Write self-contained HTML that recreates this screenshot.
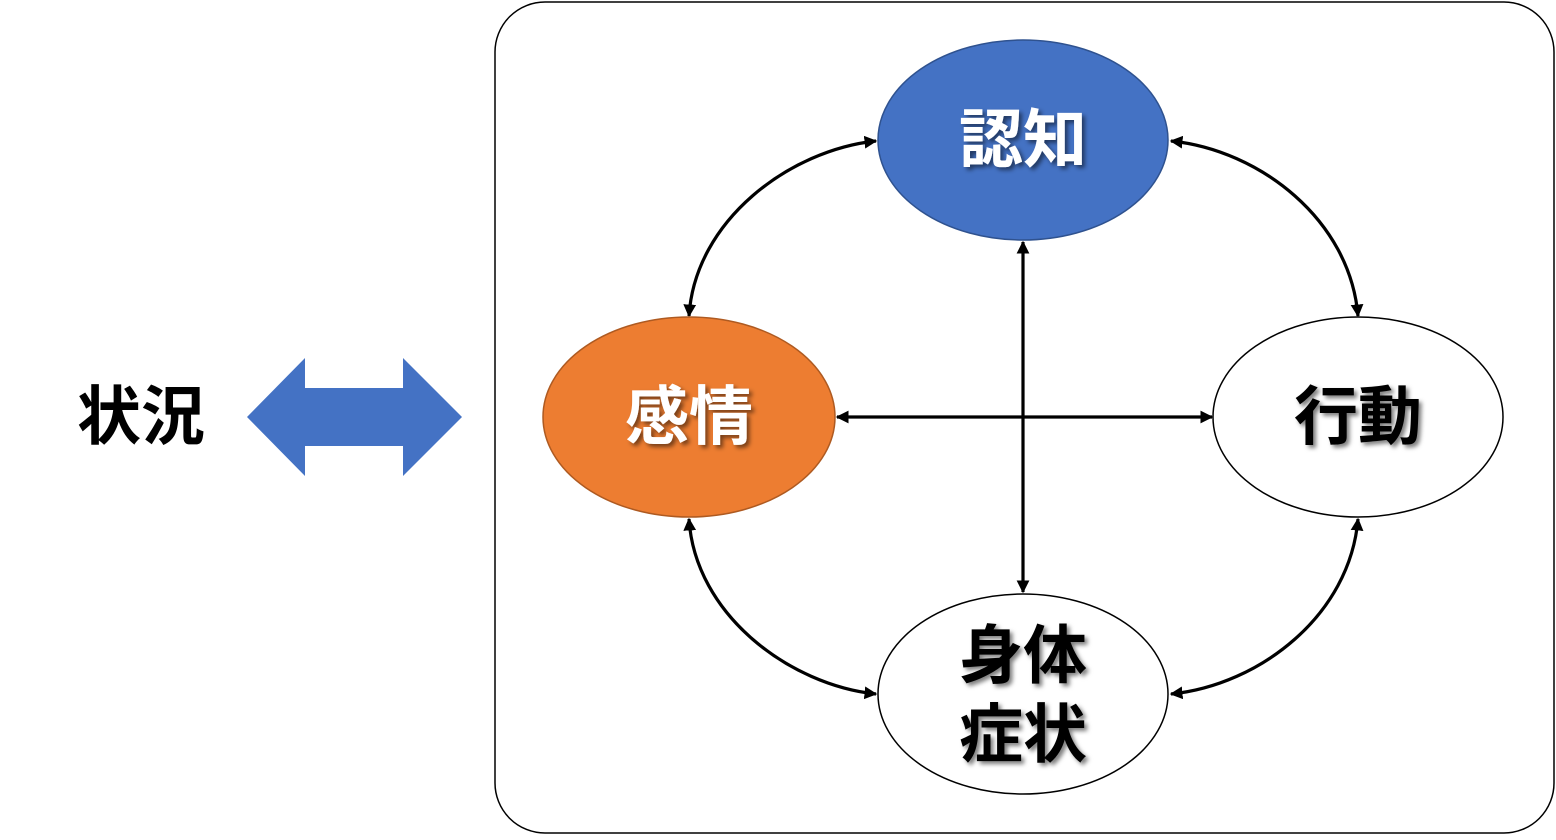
<!DOCTYPE html>
<html><head><meta charset="utf-8"><style>
html,body{margin:0;padding:0;background:#fff;}
svg text{font-family:"Liberation Sans","Noto Sans CJK JP",sans-serif;font-weight:bold;}
</style></head><body>
<svg width="1556" height="835" viewBox="0 0 1556 835" xmlns="http://www.w3.org/2000/svg">
<defs>
<marker id="a" viewBox="0 0 10 10" refX="9" refY="5" markerWidth="4" markerHeight="4" orient="auto-start-reverse">
<path d="M0,0 L10,5 L0,10 z" fill="#000"/></marker>
<filter id="s" x="-20%" y="-20%" width="140%" height="140%"><feDropShadow dx="3" dy="3" stdDeviation="2" flood-color="#000" flood-opacity="0.5"/></filter>
</defs>
<rect x="495" y="2" width="1059" height="831" rx="50" ry="50" fill="#fff" stroke="#000" stroke-width="1.5"/>
<polygon points="247,417 305,358 305,388 403,388 403,358 462,417 403,476 403,446 305,446 305,476" fill="#4472C4"/>
<text x="141" y="439" font-size="64" text-anchor="middle" fill="#000">状況</text>
<g fill="none" stroke="#000" stroke-width="3.2" marker-start="url(#a)" marker-end="url(#a)">
<path d="M689,316 C695,220 790,150 876,141"/>
<path d="M1171,141 C1260,150 1350,220 1358,316"/>
<path d="M689,519 C695,615 790,685 876,694"/>
<path d="M1171,694 C1260,685 1350,615 1358,519"/>
<path d="M1023,242 L1023,592"/>
<path d="M837,417 L1212,417"/>
</g>
<ellipse cx="1023" cy="140" rx="145" ry="100" fill="#4472C4" stroke="#2F528F" stroke-width="1.5"/>
<ellipse cx="689" cy="417" rx="146" ry="100" fill="#ED7D31" stroke="#AE5A21" stroke-width="1.5"/>
<ellipse cx="1358" cy="417" rx="145" ry="100" fill="#fff" stroke="#000" stroke-width="1.5"/>
<ellipse cx="1023" cy="694" rx="145" ry="100" fill="#fff" stroke="#000" stroke-width="1.5"/>
<g filter="url(#s)">
<text x="1023" y="162" font-size="64" text-anchor="middle" fill="#fff">認知</text>
<text x="689" y="439" font-size="64" text-anchor="middle" fill="#fff">感情</text>
<text x="1358" y="439" font-size="64" text-anchor="middle" fill="#000">行動</text>
<text x="1023" y="678" font-size="64" text-anchor="middle" fill="#000">身体</text>
<text x="1023" y="757" font-size="64" text-anchor="middle" fill="#000">症状</text>
</g>
</svg>
</body></html>
